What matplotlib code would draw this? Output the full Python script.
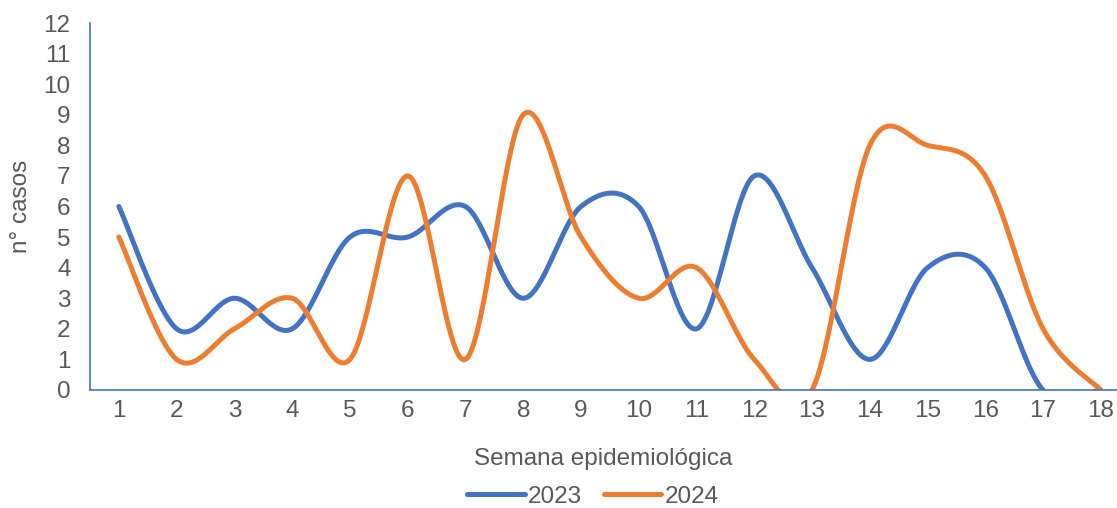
import matplotlib.pyplot as plt
import numpy as np

plt.rcParams['font.family'] = ['Liberation Sans', 'DejaVu Sans']

semanas = list(range(1, 19))
casos_2023 = [6, 2, 3, 2, 5, 5, 6, 3, 6, 6, 2, 7, 4, 1, 4, 4, 0, 0]
casos_2024 = [5, 1, 2, 3, 1, 7, 1, 9, 5, 3, 4, 1, 0, 8, 8, 7, 2, 0]
series = {'2023': casos_2023, '2024': casos_2024}
colores = {'2023': '#4472C4', '2024': '#ED7D31'}


def suavizar(x, y, n=40):
    # curva tipo Excel (Bezier con tangentes Catmull-Rom)
    x = np.asarray(x, float)
    y = np.asarray(y, float)
    px = np.concatenate([[x[0]], x, [x[-1]]])
    py = np.concatenate([[y[0]], y, [y[-1]]])
    xs, ys = [], []
    t = np.linspace(0, 1, n)
    for i in range(1, len(px) - 2):
        p0 = np.array([px[i], py[i]])
        p3 = np.array([px[i + 1], py[i + 1]])
        p1 = p0 + (np.array([px[i + 1], py[i + 1]]) - np.array([px[i - 1], py[i - 1]])) / 6
        p2 = p3 - (np.array([px[i + 2], py[i + 2]]) - np.array([px[i], py[i]])) / 6
        b = ((1 - t) ** 3)[:, None] * p0 + (3 * (1 - t) ** 2 * t)[:, None] * p1 \
            + (3 * (1 - t) * t ** 2)[:, None] * p2 + (t ** 3)[:, None] * p3
        xs.extend(b[:, 0])
        ys.extend(b[:, 1])
    return np.array(xs), np.array(ys)


fig = plt.figure(figsize=(11.17, 5.08), dpi=100)
ax = fig.add_axes([90 / 1117, 118 / 508, 1 - 90 / 1117, 367 / 508])

for nombre, valores in series.items():
    xs, ys = suavizar(semanas, valores)
    ax.plot(xs, ys, color=colores[nombre], lw=3.6, label=nombre,
            solid_capstyle='round')

ax.set_xlim(0.5, 18.28)
ax.set_ylim(0, 12)
ax.set_yticks(range(0, 13))
ax.set_xticks(semanas)
for s in ['top', 'right']:
    ax.spines[s].set_visible(False)
for s in ['left', 'bottom']:
    ax.spines[s].set_color('#4472C4')
    ax.spines[s].set_linewidth(1.2)
fs = 17.5
ax.tick_params(length=0, labelsize=fs, colors='#595959', pad=7)
ax.tick_params(axis='y', pad=14)
ax.set_xlabel('Semana epidemiológica', fontsize=fs, color='#595959', labelpad=19)
ax.set_ylabel('n° casos', fontsize=fs, color='#595959', labelpad=8)

ax.legend(loc='center', bbox_to_anchor=(0.49, -0.291), ncol=2, frameon=False,
          fontsize=fs, labelcolor='#595959', handlelength=2.35, handletextpad=0.15,
          columnspacing=0.9, borderpad=0)

fig.savefig('out.png', dpi=100)
